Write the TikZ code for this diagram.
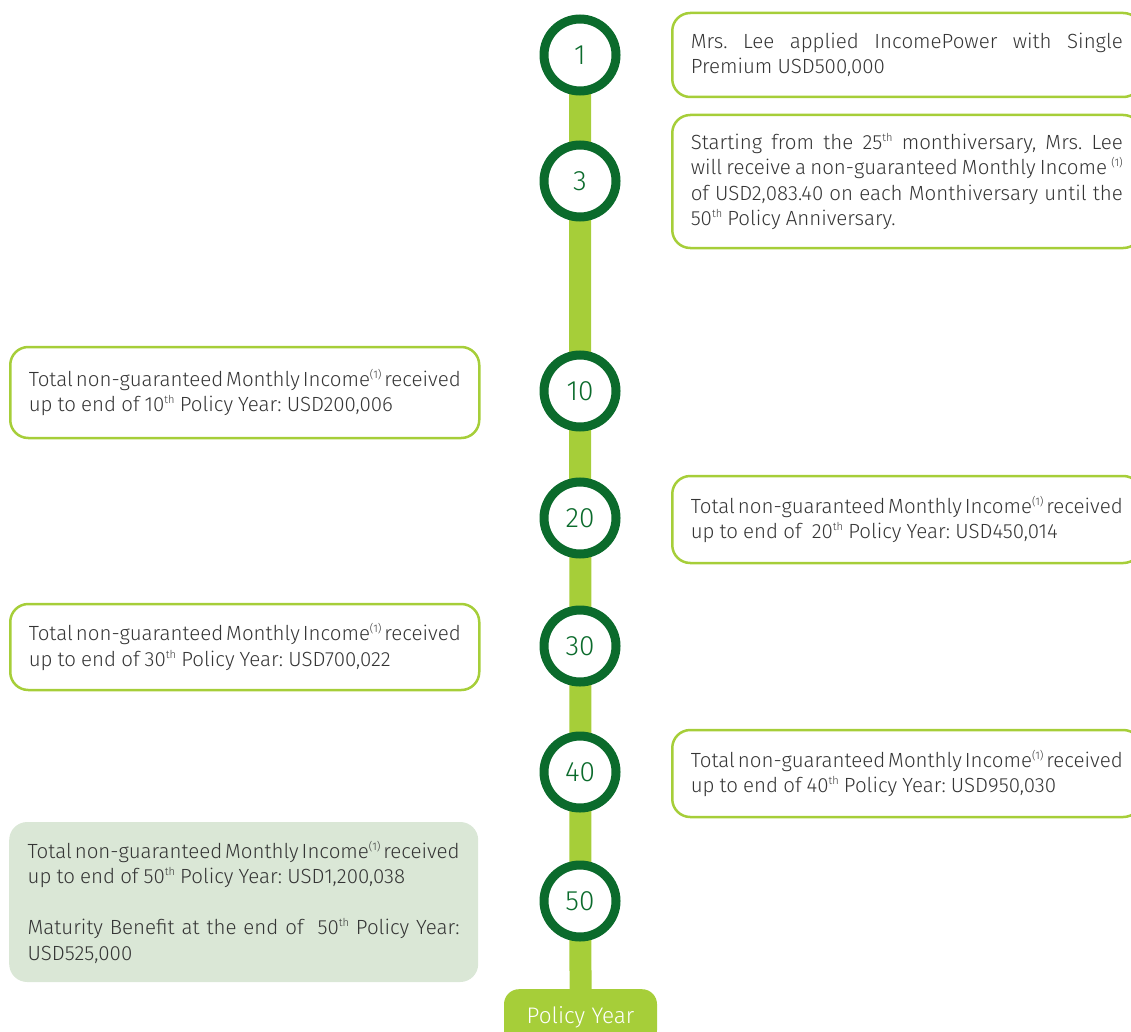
\documentclass[tikz,border=0pt]{standalone}
\usepackage{fontspec}
\IfFontExistsTF{Fira Sans Light}{\setmainfont{Fira Sans Light}}{\setmainfont{Fira Sans}}
\usetikzlibrary{backgrounds}
\definecolor{dkgreen}{HTML}{0B6B2C}
\definecolor{ltgreen}{HTML}{A6CE39}
\definecolor{boxfill}{HTML}{DAE7D6}
\definecolor{txtgray}{HTML}{353535}
\newcommand{\sups}[1]{\raisebox{0.75ex}{\fontsize{11}{11}\selectfont #1}}
\newcommand{\boxfont}{\fontsize{20.5}{25.5}\selectfont\spaceskip=.25em plus .4em minus .13em\hyphenpenalty=10000\relax}
\frenchspacing
\begin{document}
\begin{tikzpicture}[x=1pt,y=-1pt,
  yearcirc/.style={circle, draw=dkgreen, line width=9pt, fill=white, minimum size=72pt, inner sep=0pt, text=dkgreen, font=\fontsize{28}{28}\selectfont},
  infobox/.style={draw=ltgreen, line width=2.5pt, rounded corners=18pt, text width=432pt, inner xsep=18.5pt, inner ysep=0pt, align=justify, text=txtgray, font=\boxfont},
  sumbox/.style={fill=boxfill, rounded corners=18pt, text width=432pt, inner xsep=18.5pt, inner ysep=0pt, align=justify, text=txtgray, font=\boxfont},
  yearbox/.style={fill=ltgreen, rounded corners=15pt, minimum width=153pt, minimum height=56pt, text=white, font=\fontsize{22.5}{22.5}\selectfont},
  bar/.style={draw=ltgreen, line width=22pt}
]
\useasboundingbox (0,0) rectangle (1131,1032);

% circles
\node[yearcirc] (c1)  at (580,55)  {1};
\node[yearcirc] (c3)  at (580,181) {3};
\node[yearcirc] (c10) at (580,391) {10};
\node[yearcirc] (c20) at (580,518) {20};
\node[yearcirc] (c30) at (580,646) {30};
\node[yearcirc] (c40) at (580,772) {40};
\node[yearcirc] (c50) at (580,901) {50};

% policy year box
\node[yearbox, anchor=north] (py) at (580.5,989) {Policy Year};

% bar behind
\begin{scope}[on background layer]
  \draw[bar] (c1.center) -- (py.north);
\end{scope}

% right boxes
\node[infobox, anchor=west, minimum height=84pt] (b1) at (671,55)
  {Mrs. Lee applied IncomePower with Single\linebreak Premium USD500,000};
\node[infobox, anchor=west, minimum height=133pt] (b3) at (671,181.5)
  {Starting from the 25\sups{th} monthiversary, Mrs. Lee\linebreak will receive a non-guaranteed Monthly Income \sups{(1)}\linebreak of USD2,083.40 on each Monthiversary until the\linebreak 50\sups{th} Policy Anniversary.};
\node[infobox, anchor=west, minimum height=87pt] (b20) at (671,519.5)
  {Total non-guaranteed Monthly Income\sups{(1)} received\linebreak up to end of\ \ 20\sups{th} Policy Year: USD450,014};
\node[infobox, anchor=west, minimum height=87pt] (b40) at (671,773.5)
  {Total non-guaranteed Monthly Income\sups{(1)} received\linebreak up to end of 40\sups{th} Policy Year: USD950,030};

% left boxes
\node[infobox, anchor=west, minimum height=91pt] (b10) at (9,392.5)
  {Total non-guaranteed Monthly Income\sups{(1)} received\linebreak up to end of 10\sups{th} Policy Year: USD200,006};
\node[infobox, anchor=west, minimum height=86pt] (b30) at (9,647)
  {Total non-guaranteed Monthly Income\sups{(1)} received\linebreak up to end of 30\sups{th} Policy Year: USD700,022};
\node[sumbox, anchor=west, minimum height=160pt] (b50) at (9,902)
  {Total non-guaranteed Monthly Income\sups{(1)} received\linebreak up to end of 50\sups{th} Policy Year: USD1,200,038\par\vspace{25.5pt}Maturity Benefit at the end of\ \ 50\sups{th} Policy Year:\linebreak USD525,000};
\end{tikzpicture}
\end{document}
